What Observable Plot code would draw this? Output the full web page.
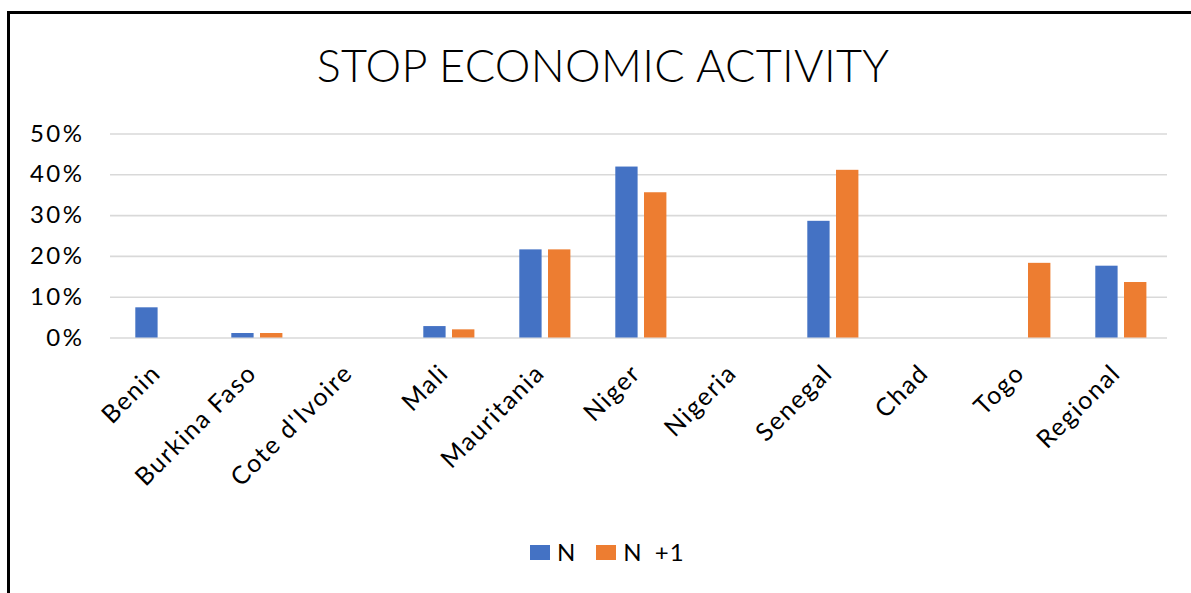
<!DOCTYPE html>
<html>
<head>
<meta charset="utf-8">
<script src="https://cdn.jsdelivr.net/npm/d3@7"></script>
<script src="https://cdn.jsdelivr.net/npm/@observablehq/plot@0.6"></script>
<style>
  html, body { margin: 0; padding: 0; background: #fff; overflow: hidden; }
  body { width: 1191px; height: 593px; position: relative; font-family: Lato, "Open Sans", sans-serif; color: #000; }
  #frame { position: absolute; left: 7px; top: 11px; width: 1300px; height: 700px;
           border-left: 3px solid #000; border-top: 3px solid #000; box-sizing: border-box; }
  #title { position: absolute; left: 0; width: 1206px; top: 35px; text-align: center;
           font-size: 45px; line-height: 60px; font-weight: 300; letter-spacing: 0.3px; }
  #chart { position: absolute; left: 0; top: 110px; }
  #chart svg g[aria-label="y-axis tick label"] text { letter-spacing: 2.5px; }
  #chart svg g[aria-label="x-axis tick label"] text { letter-spacing: 1.6px; }
  #legend { position: absolute; top: 538px; left: 530px; display: flex; align-items: center;
            font-size: 24px; line-height: 28px; letter-spacing: 1px; word-spacing: 5px; }
  .item { display: flex; align-items: center; margin-right: 20px; }
  .swatch { width: 20px; height: 15px; margin-right: 7px; }
</style>
</head>
<body>
<div id="frame"></div>
<div id="title">STOP ECONOMIC ACTIVITY</div>
<div id="chart"></div>
<div id="legend"></div>
<script>
const countries = ["Benin", "Burkina Faso", "Cote d'Ivoire", "Mali", "Mauritania", "Niger", "Nigeria", "Senegal", "Chad", "Togo", "Regional"];
const valuesN  = [0.074, 0.011, 0, 0.028, 0.216, 0.419, 0, 0.286, 0, 0, 0.176];
const valuesN1 = [0, 0.011, 0, 0.020, 0.216, 0.356, 0, 0.411, 0, 0.183, 0.136];
const seriesNames = ["N", "N +1"];
const seriesColors = ["#4472C4", "#ED7D31"];
const yTicks = [0, 0.1, 0.2, 0.3, 0.4, 0.5];

const dataN  = countries.map((c, i) => ({country: c, value: valuesN[i]}));
const dataN1 = countries.map((c, i) => ({country: c, value: valuesN1[i]}));

const chart = Plot.plot({
  width: 1191,
  height: 380,
  marginLeft: 110,
  marginRight: 24,
  marginTop: 23.5,
  marginBottom: 152.5,
  style: {fontFamily: "Lato, 'Open Sans', sans-serif", color: "#000", background: "transparent"},
  x: {domain: countries, padding: 0, label: null},
  y: {domain: [0, 0.5], ticks: yTicks, tickFormat: d3.format(".0%"), label: null},
  marks: [
    Plot.gridY(yTicks, {stroke: "#d9d9d9", strokeOpacity: 1, strokeWidth: 1.6}),
    Plot.barY(dataN,  {x: "country", y: "value", fill: seriesColors[0], insetLeft: 24.3, insetRight: 49.4}),
    Plot.barY(dataN1, {x: "country", y: "value", fill: seriesColors[1], insetLeft: 53, insetRight: 20.6}),
    Plot.axisY(yTicks, {tickSize: 0, tickPadding: 26, fontSize: 24, tickFormat: d3.format(".0%"), label: null}),
    Plot.axisX({tickSize: 0, tickRotate: -45, fontSize: 25, tickPadding: 14, dx: -3, dy: 17, label: null})
  ]
});
document.getElementById("chart").appendChild(chart);

const legend = document.getElementById("legend");
seriesNames.forEach((name, i) => {
  const item = document.createElement("div");
  item.className = "item";
  const sw = document.createElement("div");
  sw.className = "swatch";
  sw.style.background = seriesColors[i];
  const lab = document.createElement("span");
  lab.textContent = name;
  item.appendChild(sw);
  item.appendChild(lab);
  legend.appendChild(item);
});
</script>
</body>
</html>
